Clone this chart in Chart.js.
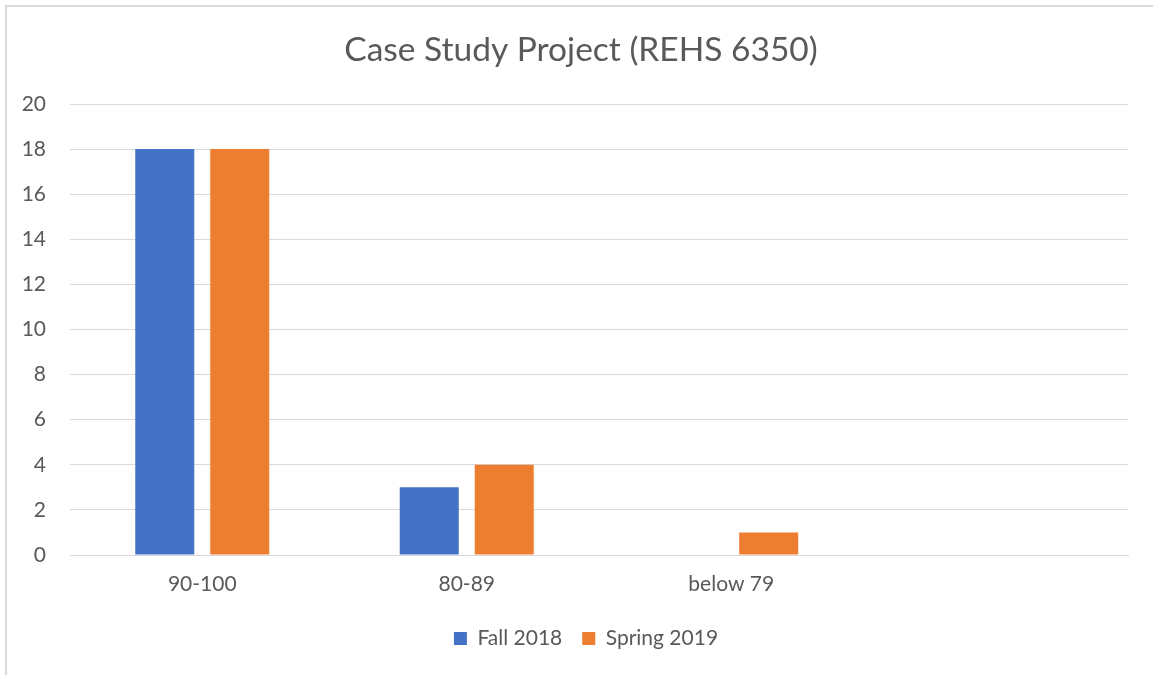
<!DOCTYPE html>
<html>
<head>
<meta charset="utf-8">
<script src="https://cdn.jsdelivr.net/npm/chart.js@4"></script>
<style>
  html, body { margin: 0; padding: 0; background: #fff; }
  #wrap { position: relative; width: 1153px; height: 675px; }
  #frame { position: absolute; left: 5px; top: 5px; right: -2px; bottom: -2px; border: 2px solid #d9d9d9; }
  canvas { position: absolute; left: 0; top: 0; }
</style>
</head>
<body>
<div id="wrap">
  <div id="frame"></div>
  <canvas id="grafico" width="1153" height="675"></canvas>
</div>
<script>
const categorias = ['90-100', '80-89', 'below 79', ''];
const fall2018 = [18, 3, 0, null];
const spring2019 = [18, 4, 1, null];
const ticksY = [0, 2, 4, 6, 8, 10, 12, 14, 16, 18, 20];

const fuente = "Lato, 'Open Sans', sans-serif";
const gris = '#595959';

// el titulo y la leyenda van centrados en el lienzo, no en el area del grafico
const centrarCajas = {
    id: 'centrarCajas',
    afterLayout(chart) {
        chart.titleBlock.left += 17;
        chart.titleBlock.right += 17;
        chart.legend.left += 22;
        chart.legend.right += 22;
    }
};

const ctx = document.getElementById('grafico').getContext('2d');
new Chart(ctx, {
    type: 'bar',
    data: {
        labels: categorias,
        datasets: [
            { label: 'Fall 2018', data: fall2018, backgroundColor: '#4472C4' },
            { label: 'Spring 2019', data: spring2019, backgroundColor: '#ED7D31' }
        ]
    },
    options: {
        responsive: false,
        animation: false,
        devicePixelRatio: 1,
        categoryPercentage: 0.567,
        barPercentage: 0.787,
        layout: { padding: { left: 0, right: 25, top: 0, bottom: 16 } },
        scales: {
            x: {
                afterFit: (s) => { s.height = 53; },
                grid: { display: false, drawTicks: false },
                border: { color: '#d9d9d9', width: 1 },
                ticks: { color: gris, font: { family: fuente, size: 21 }, padding: 17 }
            },
            y: {
                min: 0,
                max: 20,
                afterBuildTicks: (s) => { s.ticks = ticksY.map(v => ({ value: v })); },
                afterFit: (s) => { s.width = 70; },
                grid: { color: '#d9d9d9', lineWidth: 1, drawTicks: false },
                border: { display: false },
                ticks: { color: gris, font: { family: fuente, size: 21 }, padding: 24 }
            }
        },
        plugins: {
            title: {
                display: true,
                text: 'Case Study Project (REHS 6350)',
                color: gris,
                font: { family: fuente, size: 33.5, weight: 'normal' },
                padding: { top: 30, bottom: 33.8 }
            },
            legend: {
                position: 'bottom',
                labels: {
                    color: gris,
                    font: { family: fuente, size: 21 },
                    boxWidth: 13,
                    boxHeight: 13,
                    padding: 20
                }
            },
            tooltip: { enabled: false }
        }
    },
    plugins: [centrarCajas]
});
</script>
</body>
</html>
